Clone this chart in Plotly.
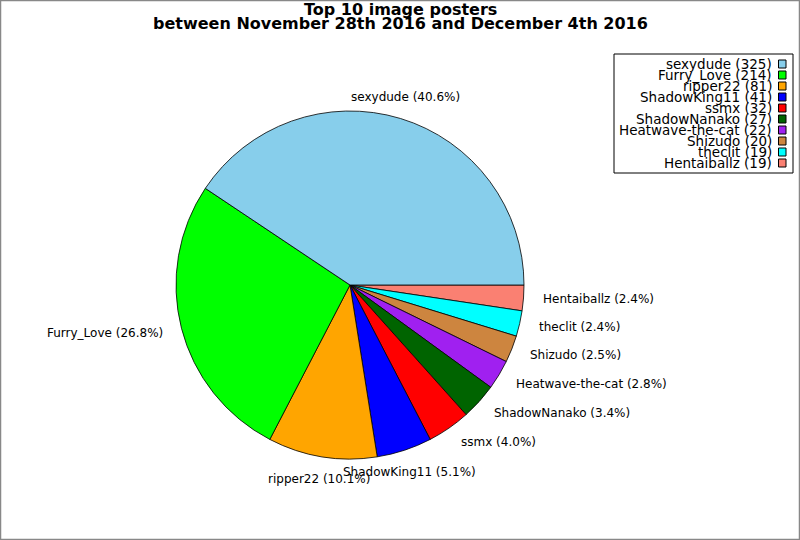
import math
import plotly.graph_objects as go

# top 10 posters and their image counts
names = ["sexydude", "Furry_Love", "ripper22", "ShadowKing11", "ssmx",
         "ShadowNanako", "Heatwave-the-cat", "Shizudo", "theclit", "Hentaiballz"]
counts = [325, 214, 81, 41, 32, 27, 22, 20, 19, 19]
colors = ["#87CEEB", "#00FF00", "#FFA500", "#0000FF", "#FF0000",
          "#006400", "#A020F0", "#CD853F", "#00FFFF", "#FA8072"]

W, H = 800, 540
cx, cy, R = 350, 285, 174  # pie centre and radius in pixels


def px(x):
    return x / W


def py(y):
    return 1 - y / H


fig = go.Figure()

# slices go counterclockwise from 3 o'clock -> feed plotly reversed, clockwise
fig.add_trace(go.Pie(
    labels=names[::-1],
    values=counts[::-1],
    marker=dict(colors=colors[::-1], line=dict(color="black", width=0.8)),
    sort=False,
    direction="clockwise",
    rotation=90,
    textinfo="none",
    showlegend=False,
    hoverinfo="label+value+percent",
    domain=dict(x=[px(cx - R), px(cx + R)], y=[py(cy + R), py(cy - R)]),
))

# slice labels at 1.1 x radius, like the original
total = sum(counts)
cum = 0
for n, c in zip(names, counts):
    mid = 2 * math.pi * (cum + c / 2) / total
    cum += c
    lx = cx + 1.1 * R * math.cos(mid)
    ly = cy - 1.1 * R * math.sin(mid)
    shift = 0
    if abs(math.cos(mid)) < 0.4:
        xa = "center"
        shift = 5 if math.sin(mid) > 0 else -5
    elif math.cos(mid) > 0:
        xa = "left"
    else:
        xa = "right"
    fig.add_annotation(
        x=px(lx), y=py(ly), xref="paper", yref="paper",
        text=f"{n} ({100 * c / total:.1f}%)", showarrow=False,
        xanchor=xa, yanchor="middle", yshift=shift,
        font=dict(size=12, color="black"),
    )

# legend drawn by hand: text right aligned, swatch on the right
top = 64
step = 11
for i, (n, c, col) in enumerate(zip(names, counts, colors)):
    yy = top + step * i
    fig.add_annotation(
        x=px(774), y=py(yy), xref="paper", yref="paper",
        text=f"{n} ({c})", showarrow=False,
        xanchor="right", yanchor="middle",
        font=dict(size=13.5, color="black"),
    )
    fig.add_shape(
        type="rect", xref="paper", yref="paper",
        x0=px(778.5), x1=px(786),
        y0=py(yy + 4), y1=py(yy - 4),
        fillcolor=col, line=dict(color="black", width=1),
    )

# legend frame
fig.add_shape(type="rect", xref="paper", yref="paper",
              x0=px(614), x1=px(793), y0=py(173), y1=py(54),
              line=dict(color="black", width=1))
# outer image border
fig.add_shape(type="rect", xref="paper", yref="paper",
              x0=px(0.5), x1=px(799.5), y0=py(539.5), y1=py(0.5),
              line=dict(color="#888888", width=1.5))

# two-line bold title, tight line spacing
fig.add_annotation(x=0.5, y=py(10), xref="paper", yref="paper",
                   text="<b>Top 10 image posters</b>", showarrow=False,
                   xanchor="center", yanchor="middle",
                   font=dict(size=16, color="black"))
fig.add_annotation(x=0.5, y=py(23), xref="paper", yref="paper",
                   text="<b>between November 28th 2016 and December 4th 2016</b>",
                   showarrow=False, xanchor="center", yanchor="middle",
                   font=dict(size=16, color="black"))

fig.update_layout(
    width=W, height=H,
    margin=dict(l=0, r=0, t=0, b=0, autoexpand=False),
    paper_bgcolor="white",
    plot_bgcolor="white",
    font=dict(family="DejaVu Sans", color="black", size=12),
)

# drop the page's default 8px body margin so the figure sits at 0,0
fig.write_html("out.html", config={"displayModeBar": False},
               post_script="document.body.style.margin='0';")
